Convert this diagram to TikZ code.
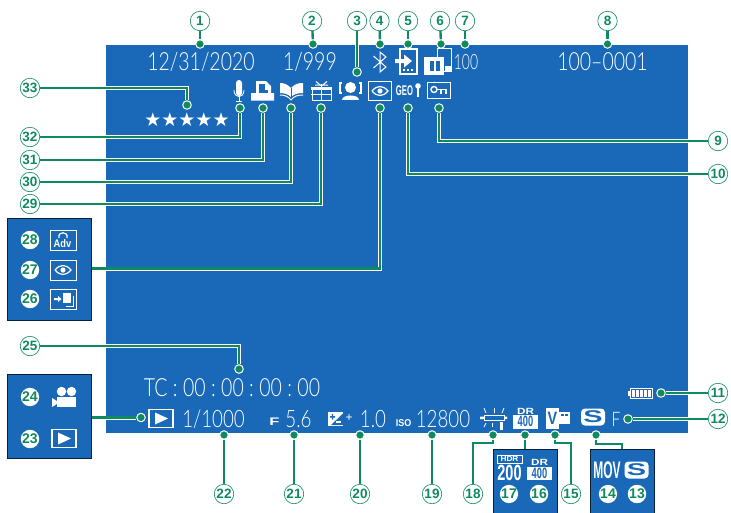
\documentclass[tikz,border=0pt]{standalone}
\usepackage{fontspec}
\usepackage{graphicx}
\newfontfamily\numfont{Liberation Sans}
\newfontfamily\starfont{DejaVu Sans}
\newfontfamily\scrfont{Lato Light}
\definecolor{scrblue}{HTML}{1A69B9}
\definecolor{callgreen}{HTML}{0E8A5E}
\newcommand{\scrtxt}[2][25]{\scalebox{.78}[1]{\scrfont\fontsize{#1}{#1}\selectfont #2}}
\newcommand{\boldtxt}[3]{\scalebox{#1}[1]{\numfont\bfseries\fontsize{#2}{#2}\selectfont #3}}
\tikzset{
  callnum/.style={circle,draw=callgreen,line width=.6pt,fill=white,text=callgreen,inner sep=0pt,
    minimum size=19.5pt,font=\numfont\bfseries\fontsize{13.5}{13.5}\selectfont},
  callfill/.style={circle,fill=white,text=callgreen,inner sep=0pt,
    minimum size=17.5pt,font=\numfont\bfseries\fontsize{14}{14}\selectfont},
  calldot/.style={circle,fill=callgreen,draw=white,line width=1pt,inner sep=0pt,minimum size=8.5pt},
  callline/.style={draw=white,double=callgreen,double distance=2.4pt,line width=.8pt},
  panel/.style={draw=black!70!scrblue,fill=scrblue,line width=.8pt,inner sep=0pt},
  scrtext/.style={text=white,inner sep=0pt},
  icoline/.style={draw=white,line width=1pt},
  eyeicon/.pic={
    \draw[white,line width=1.2pt] (-8,0) .. controls (-3,-6) and (3,-6) .. (8,0) .. controls (3,6) and (-3,6) .. (-8,0);
    \fill[white] (0,0) circle (2.6);
  },
  sbadge/.pic={
    \node[fill=white,rounded corners=4pt,minimum width=24pt,minimum height=17pt,inner sep=0pt,text=scrblue] (s)
      {\boldtxt{1.7}{17}{S}};
  },
  drbadge/.pic={
    \node[scrtext] (dr) at (0,-7) {\boldtxt{1.3}{9}{DR}};
    \fill[white] (-12.5,-3) rectangle (12.5,10.5);
    \node[scrtext,text=scrblue] (iso) at (0,3.8) {\boldtxt{.62}{15}{400}};
  },
  playicon/.pic={
    \draw[white,line width=1.8pt] (-12,-9) rectangle (12,9);
    \fill[white] (-6,-6) -- (7,0) -- (-6,6) -- cycle;
  },
}
\begin{document}
\begin{tikzpicture}[x=1pt,y=-1pt]
  \useasboundingbox (0,0) rectangle (731,512);
  \fill[scrblue] (106,45) rectangle (688,433);
  % side panels
  \node[panel,minimum width=84pt,minimum height=102pt] (boxrec) at (49.5,269.5) {};
  \node[panel,minimum width=84pt,minimum height=84pt] (boxplay) at (49.5,416) {};
  \node[panel,minimum width=64pt,minimum height=72pt] (boxdr) at (525,485) {};
  \node[panel,minimum width=64pt,minimum height=72pt] (boxmov) at (622,485) {};
  % screen text
  \node[scrtext] (date) at (201,61.5) {\scrtxt{12/31/2020}};
  \node[scrtext] (count) at (310,61.5) {\scrtxt{1/999}};
  \node[scrtext] (folder) at (466,62) {\scalebox{.85}[1]{\scrtxt[21]{100}}};
  \node[scrtext] (frame) at (602.5,61.5) {\scrtxt{100–0001}};
  \node[scrtext] (stars) at (187,120) {\starfont\fontsize{19}{19}\selectfont ★★★★★};
  \node[scrtext] (tcode) at (232,388) {\scrtxt{TC\;:\;00\;:\;00\;:\;00\;:\;00}};
  \node[scrtext] (speed) at (213.5,419) {\scrtxt[24]{1/1000}};
  \node[scrtext] (fnum) at (298.5,419) {\scrtxt[24]{5.6}};
  \node[scrtext] (fmark) at (274.5,422) {\boldtxt{1.5}{11}{F}};
  \node[scrtext] (plus) at (349,418) {\numfont\fontsize{12}{12}\selectfont +};
  \node[scrtext] (comp) at (373,419) {\scrtxt[24]{1.0}};
  \node[scrtext] (isomark) at (403.5,423) {\boldtxt{.9}{10}{ISO}};
  \node[scrtext] (isonum) at (443,419) {\scrtxt[24]{12800}};
  \node[scrtext] (fine) at (616,419) {\scrtxt[20]{F}};
  \node[scrtext] (geo) at (404.5,91) {\boldtxt{.55}{14}{GEO}};
  % bluetooth
  \draw[icoline] (373.5,56) -- (386,67) -- (380,72) -- (380,52) -- (386,57) -- (373.5,68);
  % phone with arrow
  \draw[white,line width=1.4pt] (400,49) rectangle (417,74);
  \foreach \i in {403,407,411} \fill[white] (\i,69) rectangle ++(2,2);
  \fill[white] (395,59) -- (404,59) -- (404,54.5) -- (412,61) -- (404,67.5) -- (404,63) -- (395,63) -- cycle;
  % phone and pause
  \draw[white,line width=1pt] (437,48) rectangle (451,71);
  \fill[white] (445,66) rectangle (451,71);
  \fill[white] (424,57) rectangle (444,75);
  \foreach \i in {430,436} \fill[scrblue] (\i,61) rectangle ++(3.5,10);
  % face detection
  \draw[icoline,line width=1.4pt] (342,83) -- (340,83) -- (340,93) -- (342,93);
  \draw[icoline,line width=1.4pt] (359,83) -- (361,83) -- (361,93) -- (359,93);
  \fill[white] (350.5,87.5) circle (5.5);
  \fill[white] (342,100) .. controls (342,94) and (359,94) .. (359,100) -- cycle;
  % eye, key
  \draw[icoline] (368.5,81.5) rectangle (391.5,100);
  \pic at (380,91) {eyeicon};
  \draw[white,line width=1.2pt] (418,84) -- (418,97);
  \fill[white] (418,86) circle (2.8);
  \draw[icoline] (427,82) rectangle (450,98);
  \draw[white,line width=1.4pt] (434,89.5) circle (3);
  \draw[white,line width=1.6pt] (437,89.5) -- (447,89.5) (441,89.5) -- (441,94) (446,89.5) -- (446,94);
  % mic
  \fill[white,rounded corners=3pt] (236,80) rectangle (242,96);
  \draw[white,line width=.8pt] (234,90) .. controls (234,99) and (244,99) .. (244,90);
  \draw[white,line width=1pt] (239,97) -- (239,101) (236,101) -- (242,101);
  % printer
  \fill[white] (256,81) -- (266,81) -- (271,86) -- (271,93) -- (274,93) -- (274,100.5) -- (251,100.5) -- (251,93) -- (256,93) -- cycle;
  \fill[scrblue] (259,84) rectangle (265,93);
  \fill[scrblue] (259,90) rectangle (268,93);
  % book
  \fill[white] (291,88) .. controls (287,84) and (284,83) .. (280,83) -- (280,93) .. controls (284,93) and (288,94) .. (291,97) .. controls (294,94) and (298,93) .. (303,93) -- (303,83) .. controls (298,83) and (295,84) .. (291,88) -- cycle;
  \fill[scrblue] (290.6,88) rectangle (291.4,97);
  \draw[white,line width=1pt] (280,95) .. controls (284,95) and (288,96) .. (291,100) .. controls (294,96) and (298,95) .. (303,95);
  % gift
  \draw[icoline] (312,89) rectangle (331,100);
  \fill[white] (311,86.5) rectangle (332,90);
  \draw[icoline] (311,94) -- (332,94);
  \draw[icoline,line width=1.6pt] (321.5,84) -- (321.5,100);
  \draw[icoline] (321.5,86) -- (316,81.5) (321.5,86) -- (327,81.5) (315,85) -- (328,85);
  % recording panel
  \draw[icoline] (50,230) rectangle (76,250);
  \node[scrtext] (adv) at (62.5,243.5) {\boldtxt{.85}{11}{Adv}};
  \draw[white,line width=1.2pt] (59,238) .. controls (57,231) and (69,231) .. (67,238);
  \draw[icoline] (50,260) rectangle (76,280);
  \pic at (63,270) {eyeicon};
  \draw[icoline] (50,289.5) rectangle (76,309.5);
  \fill[white] (54,298) rectangle (58,300) (58,296) -- (61.5,299) -- (58,302) -- cycle;
  \fill[white] (63,293) rectangle (71,303);
  \draw[icoline] (73,296) -- (73,306) -- (66,306);
  % movie and play panel
  \fill[white] (61.5,391.5) circle (4.7) (71.5,391.5) circle (4.7);
  \fill[white] (57,397) rectangle (76,407);
  \fill[white] (52,398) -- (57,401) -- (57,404) -- (52,407) -- cycle;
  \pic at (64,438.5) {playicon};
  \pic at (161,418.5) {playicon};
  % exposure
  \fill[white] (328,412) rectangle (343,426);
  \fill[scrblue] (343,413.5) -- (343,425) -- (331,425) -- cycle;
  \fill[scrblue] (330,416) rectangle (335,417.5) (331.8,414) rectangle (333.2,419.5);
  \fill[white] (336,421) rectangle (341,422.5);
  % white balance
  \draw[icoline] (484,415) rectangle (504,420.5);
  \fill[white] (480,416.5) rectangle (484,419) (504,416.5) rectangle (507,419);
  \foreach \i/\j in {486/-2,494/0,502/2} \draw[white,line width=.8pt] (\i,413) -- ++(\j,-5);
  \foreach \i/\j in {486/-2,492/0} \draw[white,line width=.8pt] (\i,423) -- ++(\j,4);
  \fill[white] (500,422) rectangle (503,430);
  % film simulation
  \fill[white] (546,408) rectangle (559,429);
  \node[scrtext,text=scrblue] (filmv) at (552.5,418.5) {\boldtxt{.8}{18}{V}};
  \fill[white] (559,412) rectangle (570,424);
  \foreach \i in {561,565} \fill[scrblue] (\i,414) rectangle ++(2.5,2);
  % drive badges, battery
  \pic at (525.5,418) {drbadge};
  \pic at (593,417) {sbadge};
  \draw[icoline] (630,388.5) rectangle (652,398);
  \fill[white] (628,391) rectangle (630,396);
  \foreach \i in {632,636,640,644,648} \fill[white] (\i,390) rectangle ++(3,6.5);
  % bottom panels
  \draw[white,line width=.8pt] (497,455) rectangle (522,463);
  \node[scrtext] (hdr) at (509.5,459) {\boldtxt{1.1}{7.5}{HDR}};
  \node[scrtext] (hdrval) at (509.5,473) {\boldtxt{.66}{22}{200}};
  \pic at (539.5,469.5) {drbadge};
  \node[scrtext] (mov) at (607,470.5) {\boldtxt{.5}{24}{MOV}};
  \pic at (636.5,470) {sbadge};
  % callouts
  \foreach \n/\x/\y in {1/200/21,2/312/21,3/357/21,4/379.5/21,5/408/21,6/440/21,7/465/21,8/607.5/21,
    9/718/141,10/718/174,11/718/393,12/718/419,15/571/494,18/473/494,19/432/494,20/360/494,21/294/494,22/224/494,
    25/30/346,29/30/204,30/30/182,31/30/160,32/30/137,33/30/88}
    \node[callnum] (c\n) at (\x,\y) {\n};
  \foreach \n/\x/\y in {13/637/494,14/608/494,16/539/494,17/509/494,23/30/439,24/30/397,26/30/299,27/30/270,28/30/240}
    \node[callfill] (c\n) at (\x,\y) {\n};
  \foreach \n/\x/\y in {1/200/44,2/313/44,3/357/72,4/380/44,5/408/44,6/441/44,7/465/44,8/607.5/44,
    9/439/108,10/408/108,11/661/393,12/628/419,13/596/435,15/555/435,16/525/435,18/493/435,19/432/435,20/360/435,21/294/435,22/224/435,
    23/141/417.5,25/239/369,27/380/108,29/321/108,30/291/108,31/263/108,32/240/108,33/187/105}
    \node[calldot] (d\n) at (\x,\y) {};
  \coordinate (p27) at (boxrec.east |- 0,268.5);
  \coordinate (p23) at (boxplay.east |- d23);
  % connectors
  \foreach \n in {1,...,8,11,12,19,20,21,22} \draw[callline] (c\n) -- (d\n);
  \foreach \n in {9,10,25,29,30,31,32,33} \draw[callline] (c\n) -| (d\n);
  \draw[callline] (p27) -| (d27);
  \draw[callline] (p23) -- (d23);
  \draw[callline] (d16) -- (boxdr.north -| d16);
  \draw[callline] (d18) -- ++(0,8) -| (c18);
  \draw[callline] (d15) -- ++(0,8) -| (c15);
  \draw[callline] (d13) -- ++(0,9) -| (boxmov.north);
\end{tikzpicture}
\end{document}
